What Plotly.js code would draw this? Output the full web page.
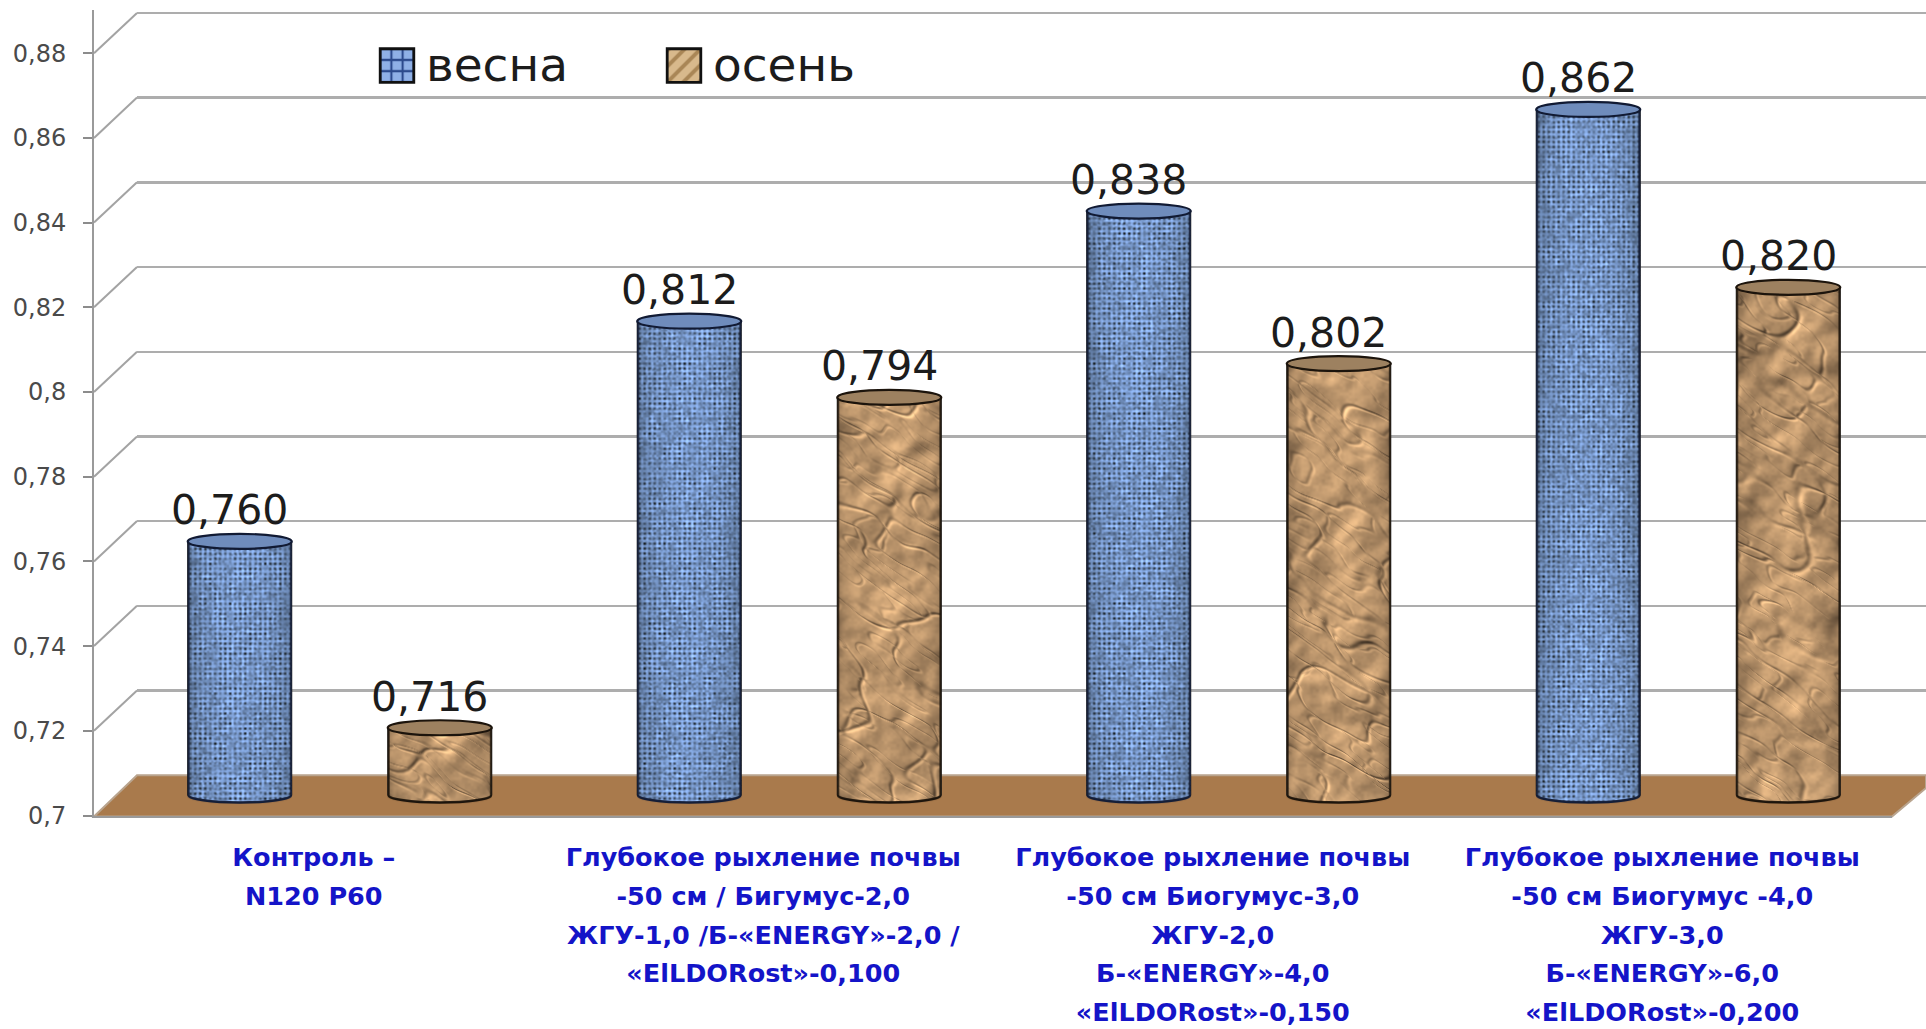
<!DOCTYPE html>
<html lang="ru">
<head>
<meta charset="utf-8">
<title>Весна и осень</title>
<script src="https://cdn.plot.ly/plotly-3.0.1.min.js"></script>
<style>html,body{margin:0;padding:0;background:#fff;overflow:hidden}</style>
</head>
<body>
<div id="chart" style="width:1926px;height:1029px"></div>
<script>
// Values per treatment, spring and autumn
const categories = [
  'Контроль –<br>N120 P60',
  'Глубокое рыхление почвы<br>-50 см / Бигумус-2,0<br>ЖГУ-1,0 /Б-«ENERGY»-2,0 /<br>«ElLDORost»-0,100',
  'Глубокое рыхление почвы<br>-50 см Биогумус-3,0<br>ЖГУ-2,0<br>Б-«ENERGY»-4,0<br>«ElLDORost»-0,150',
  'Глубокое рыхление почвы<br>-50 см Биогумус -4,0<br>ЖГУ-3,0<br>Б-«ENERGY»-6,0<br>«ElLDORost»-0,200'
];
const spring = [0.760, 0.812, 0.838, 0.862];
const autumn = [0.716, 0.794, 0.802, 0.820];
const yTicks = [0.70, 0.72, 0.74, 0.76, 0.78, 0.80, 0.82, 0.84, 0.86, 0.88];
const yTickText = ['0,7', '0,72', '0,74', '0,76', '0,78', '0,8', '0,82', '0,84', '0,86', '0,88'];
const seriesNames = ['весна', 'осень'];

// Page size and the pseudo-3D box: front plane, bar plane and back wall
const W = 1926, H = 1029, BASE = 0.7, UNIT = 84.7 / 0.02;
const frontLeft = 94, frontRight = 1892, frontBase = 815.5;
const wallLeft = 137, wallBase = 775.2;
const barDx = 21, barBase = 795.5, capRy = 7.5;
const barGap = 0.11, barGroupGap = 0.48;
const slot = (1 - barGap) / 2, barW = slot * (1 - barGroupGap);

const fx = px => px / W, fy = py => 1 - py / H;
const vAt = (basePx, py) => BASE + (basePx - py) / UNIT;
const frontY = v => frontBase - (v - BASE) * UNIT;
const wallY = v => wallBase - (v - BASE) * UNIT;

// Surface textures: seeded value noise keeps every render identical
function hash(x, y, s) {
  let h = (x * 374761393 + y * 668265263 + s * 2147483647) | 0;
  h = Math.imul(h ^ (h >>> 13), 1274126177);
  return ((h ^ (h >>> 16)) >>> 0) / 4294967295;
}
function noise(x, y, s) {
  const xi = Math.floor(x), yi = Math.floor(y);
  let fx_ = x - xi, fy_ = y - yi;
  fx_ = fx_ * fx_ * (3 - 2 * fx_); fy_ = fy_ * fy_ * (3 - 2 * fy_);
  const a = hash(xi, yi, s), b = hash(xi + 1, yi, s), c = hash(xi, yi + 1, s), d = hash(xi + 1, yi + 1, s);
  return a + (b - a) * fx_ + (c - a) * fy_ + (a - b - c + d) * fx_ * fy_;
}
// Paper folds: contour lines of stretched noise, running mostly on a down-right diagonal
function creases(x, y, s) {
  const rx = 0.8 * x + 0.6 * y, ry = -0.6 * x + 0.8 * y;
  const wx = rx + 10 * (noise(x / 30, y / 30, s + 1) - 0.5);
  const wy = ry + 10 * (noise(x / 30, y / 30, s + 2) - 0.5);
  let c = 0;
  const bands = [[1 / 130, 1 / 30, 1.0, 0.022], [1 / 80, 1 / 17, 0.8, 0.028], [1 / 36, 1 / 9, 0.45, 0.04]];
  bands.forEach((b, i) => {
    const d = noise(wx * b[0], wy * b[1], s + 10 + i) - 0.5;
    c = Math.max(c, b[2] * Math.exp(-(d * d) / (b[3] * b[3])));
  });
  return c;
}
function facets(x, y, s) {
  return noise(x / 24, y / 24, s + 20) + 0.5 * noise(x / 11, y / 11, s + 21);
}
function cylinderImage(v, kind, seed) {
  const w = 104, side = Math.round((v - BASE) * UNIT), h = side + Math.ceil(capRy) + 1;
  const cv = document.createElement('canvas');
  cv.width = w; cv.height = h;
  const ctx = cv.getContext('2d');
  const img = ctx.createImageData(w, h);
  for (let y = 0; y < h; y++) {
    for (let x = 0; x < w; x++) {
      const t = (x + 0.5) / w * 2 - 1;
      const round = Math.sqrt(Math.max(0, 1 - t * t));
      let r, g, b;
      if (kind === 'blue') {
        const cx = ((x % 5) + 5) % 5 - 2, cy = ((y % 5) + 5) % 5 - 2;
        const hole = Math.exp(-(cx * cx + cy * cy) / 2.8);
        const blot = noise(x / 7, y / 7, seed), fine = noise(x / 2.2, y / 2.2, seed + 3);
        const l = 0.96 - 0.72 * hole * (0.2 + blot * 1.3) + 0.34 * (fine - 0.5) + 0.36 * (blot - 0.5);
        const shade = (0.6 + 0.5 * Math.pow(round, 0.7)) * l;
        r = 122 * shade + 14; g = 154 * shade + 18; b = 214 * shade + 16;
      } else {
        const dark = creases(x, y, seed), light = creases(x - 2.4, y - 2.4, seed);
        const grain = noise(x / 3, y / 3, seed + 5) - 0.5;
        const slope = facets(x + 2, y + 2, seed) - facets(x - 2, y - 2, seed);
        const blot = noise(x / 26, y / 26, seed + 7) - 0.5;
        const l = 0.86 - 0.42 * dark + 0.34 * light + 0.07 * grain + 0.18 * blot - 0.5 * slope;
        const shade = (0.62 + 0.4 * Math.pow(round, 0.6)) * l;
        r = 214 * shade + 4; g = 172 * shade + 2; b = 124 * shade + 2;
      }
      const k = (y * w + x) * 4;
      img.data[k] = r; img.data[k + 1] = g; img.data[k + 2] = b; img.data[k + 3] = 255;
    }
  }
  ctx.putImageData(img, 0, 0);
  const outline = () => {
    ctx.beginPath();
    ctx.moveTo(0.5, 0);
    ctx.lineTo(0.5, side);
    ctx.ellipse(w / 2, side, w / 2 - 0.5, capRy, 0, Math.PI, 0, true);
    ctx.lineTo(w - 0.5, 0);
  };
  ctx.globalCompositeOperation = 'destination-in';
  outline(); ctx.closePath(); ctx.fill();
  ctx.globalCompositeOperation = 'source-over';
  ctx.strokeStyle = kind === 'blue' ? '#141d36' : '#1c140c';
  ctx.lineWidth = 2.4;
  outline(); ctx.stroke();
  return cv.toDataURL('image/png');
}

const barCenter = (i, s) => i + (s === 0 ? -slot / 2 : slot / 2);
const valueText = v => v.toFixed(3).replace('.', ',');
const seriesList = [spring, autumn];
const seriesStyle = [
  {kind: 'blue', color: '#5f86c8', fg: '#2c4a8c', bg: '#8fb0e6', shape: '+', cap: '#6f8cbc', capEdge: '#111a33'},
  {kind: 'tan', color: '#bd9a6c', fg: '#a98656', bg: '#d8b98c', shape: '/', cap: '#9d8160', capEdge: '#1c140c'}
];

const traces = [];
const images = [];
const annotations = [];
const shapes = [];

// Back wall and front category axis carry their own invisible anchors
traces.push({x: [0, 1], y: [BASE, BASE], xaxis: 'x', yaxis: 'y', mode: 'lines', opacity: 0, showlegend: false, hoverinfo: 'skip'});

seriesList.forEach((vals, s) => {
  const st = seriesStyle[s];
  traces.push({
    type: 'bar', name: seriesNames[s], xaxis: 'x2', yaxis: 'y2',
    x: vals.map((_, i) => i), base: vals.map(() => BASE), y: vals.map(v => v - BASE),
    marker: {color: st.color, line: {color: '#111', width: 1},
             pattern: {shape: st.shape, fgcolor: st.fg, bgcolor: st.bg, size: 5, solidity: 0.35}},
    hoverinfo: 'name+text', hovertext: vals.map(valueText)
  });
  vals.forEach((v, i) => {
    const cx = barCenter(i, s);
    images.push({
      source: cylinderImage(v, st.kind, 11 + s * 40 + i * 7),
      xref: 'x2', yref: 'y2', x: cx - barW / 2, y: v, xanchor: 'left', yanchor: 'top',
      sizex: barW, sizey: (v - BASE) + (capRy + 1) / UNIT, sizing: 'stretch', layer: 'above'
    });
    shapes.push({
      type: 'circle', xref: 'x2', yref: 'y2', layer: 'above',
      x0: cx - barW / 2, x1: cx + barW / 2,
      y0: v - capRy / UNIT, y1: v + capRy / UNIT,
      fillcolor: st.cap, line: {color: st.capEdge, width: 2.2}
    });
    annotations.push({
      xref: 'x2', yref: 'y2', x: cx, y: v, text: valueText(v), showarrow: false,
      xanchor: 'center', yanchor: 'bottom', xshift: -10, yshift: 5,
      font: {family: 'DejaVu Sans', size: 41, color: '#1c1c1c'}
    });
  });
});

traces.push({x: categories, y: categories.map(() => BASE), xaxis: 'x3', yaxis: 'y3', mode: 'lines', opacity: 0, showlegend: false, hoverinfo: 'skip'});

// Connectors between the front axis and the back wall
const diagonals = yTicks.slice(1).map(v => ({
  type: 'line', xref: 'paper', yref: 'paper', layer: 'below',
  x0: fx(frontLeft), y0: fy(frontY(v)), x1: fx(wallLeft), y1: fy(wallY(v)),
  line: {color: '#a3a3a3', width: 2}
}));

// Brown floor of the box
const floorPts = [[frontLeft, frontBase + 1], [wallLeft, wallBase], [W, wallBase], [W, 788], [frontRight, frontBase + 1]];
const floorPath = floorPts.map((p, i) => (i ? 'L' : 'M') + fx(p[0]) + ',' + fy(p[1])).join(' ') + ' Z';
const floorShape = {type: 'path', xref: 'paper', yref: 'paper', layer: 'below', path: floorPath,
                    fillcolor: '#a97a4c', line: {color: '#b9a48e', width: 2}};

const layout = {
  width: W, height: H,
  margin: {l: 0, r: 0, t: 0, b: 0, pad: 0},
  paper_bgcolor: '#ffffff', plot_bgcolor: 'rgba(0,0,0,0)',
  barmode: 'group', bargap: barGap, bargroupgap: barGroupGap,
  font: {family: 'DejaVu Sans'},
  // back wall with the gridlines
  xaxis: {domain: [fx(wallLeft), 1], range: [0, 1], visible: false, anchor: 'y', fixedrange: true},
  yaxis: {domain: [fy(wallBase), fy(0.5)], range: [BASE, vAt(wallBase, 0.5)], anchor: 'x', fixedrange: true,
          tickmode: 'array', tickvals: yTicks, showticklabels: false, ticks: '',
          showgrid: true, gridcolor: '#adadad', gridwidth: 2.4, zeroline: false, showline: false},
  // plane the cylinders stand on
  xaxis2: {domain: [fx(frontLeft + barDx), fx(frontRight + barDx)], range: [-0.5, 3.5], visible: false, anchor: 'y2', fixedrange: true},
  yaxis2: {domain: [fy(barBase + 12), fy(3)], range: [vAt(barBase, barBase + 12), vAt(barBase, 3)], visible: false, anchor: 'x2', fixedrange: true},
  // front axes with ticks and labels
  xaxis3: {domain: [fx(frontLeft), fx(frontRight)], type: 'category', categoryorder: 'array', categoryarray: categories,
           range: [-0.5, 3.5], anchor: 'y3', fixedrange: true, tickson: 'boundaries', ticks: 'outside', ticklen: 11, tickwidth: 2,
           tickcolor: '#8c8c8c', showline: true, linecolor: '#9a9a9a', linewidth: 2, showgrid: false, zeroline: false,
           tickangle: 0, ticklabelstandoff: 18,
           tickfont: {family: 'DejaVu Sans', size: 25.5, weight: 700, color: '#1414c8'}},
  yaxis3: {domain: [fy(frontBase), fy(10)], range: [BASE, vAt(frontBase, 10)], anchor: 'x3', fixedrange: true,
           tickmode: 'array', tickvals: yTicks, ticktext: yTickText, ticks: 'outside', ticklen: 9, tickwidth: 2,
           tickcolor: '#8c8c8c', showline: true, linecolor: '#9a9a9a', linewidth: 2, showgrid: false, zeroline: false,
           ticklabelstandoff: 12, tickfont: {family: 'DejaVu Sans', size: 24, color: '#4a4a4a'}},
  showlegend: true,
  legend: {orientation: 'h', x: fx(377), xanchor: 'left', y: fy(66), yanchor: 'middle', bgcolor: 'rgba(0,0,0,0)',
           font: {family: 'DejaVu Sans', size: 47, color: '#1c1c1c'}, itemwidth: 39,
           entrywidth: 233, entrywidthmode: 'pixels', tracegroupgap: 0, traceorder: 'normal'},
  shapes: [floorShape].concat(diagonals, shapes),
  images: images,
  annotations: annotations
};

Plotly.newPlot('chart', traces, layout, {displayModeBar: false, staticPlot: true}).then(() => {
  // Wider line spacing for the category labels and large legend swatches
  document.querySelectorAll('.x3tick').forEach(g => {
    g.setAttribute('transform', 'translate(-5,0)');
    g.querySelectorAll('tspan.line').forEach((t, i) => {
      t.setAttribute('dy', (i * 38.7) + 'px');
    });
  });
  document.querySelectorAll('.legend .legendpoints path').forEach(p => {
    p.setAttribute('transform', 'translate(20,0) scale(2.8)');
  });
  document.querySelectorAll('.legend .legendtext').forEach(t => {
    t.setAttribute('transform', 'translate(0,-3)');
  });
});
</script>
</body>
</html>
